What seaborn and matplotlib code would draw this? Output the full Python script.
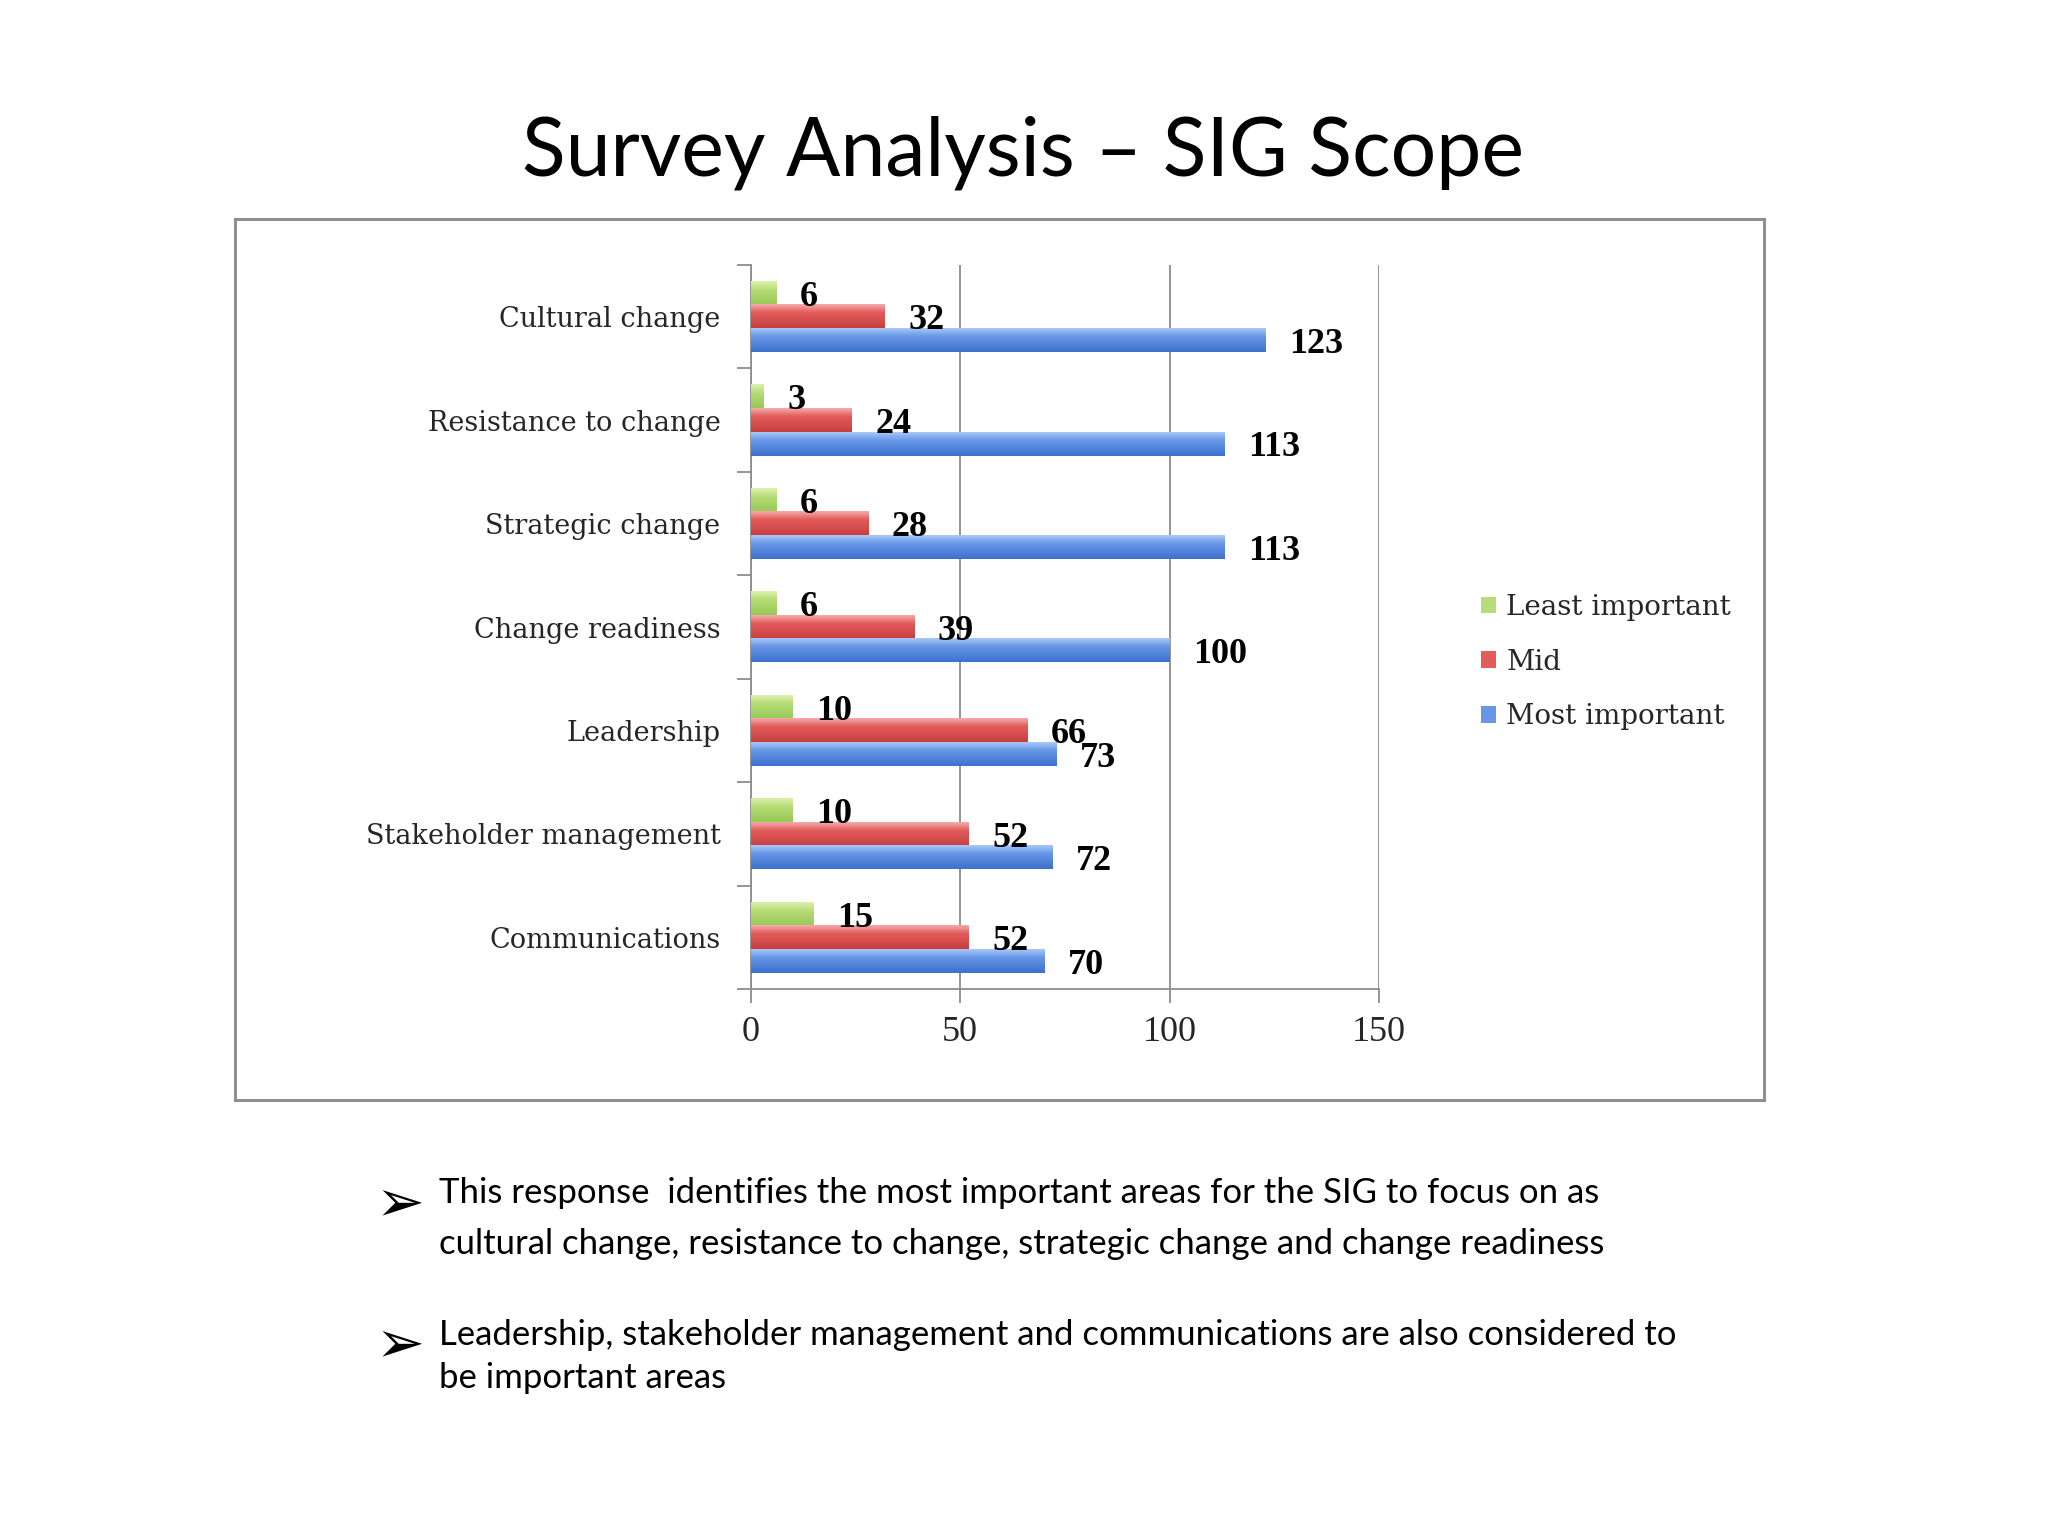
import numpy as np
import pandas as pd
import matplotlib
matplotlib.use("Agg")
import matplotlib.pyplot as plt
import seaborn as sns
from matplotlib.patches import Rectangle
from matplotlib.colors import to_rgb

# --- DATA ---
categories = ["Cultural change", "Resistance to change", "Strategic change",
              "Change readiness", "Leadership", "Stakeholder management",
              "Communications"]
least_important = [6, 3, 6, 6, 10, 10, 15]
mid = [32, 24, 28, 39, 66, 52, 52]
most_important = [123, 113, 113, 100, 73, 72, 70]
series_names = ["Least important", "Mid", "Most important"]
x_ticks = [0, 50, 100, 150]

title_text = "Survey Analysis \u2013 SIG Scope"
bullets = [
    ["This response  identifies the most important areas for the SIG to focus on as",
     "cultural change, resistance to change, strategic change and change readiness"],
    ["Leadership, stakeholder management and communications are also considered to",
     "be important areas"],
]

# --- STYLE ---
# (top, base, bottom) shades to fake the office-style gradient bars
shades = {
    "Least important": ("#dcf2ad", "#b7dc78", "#98c955"),
    "Mid": ("#f6aaaa", "#e25c5c", "#c83e3e"),
    "Most important": ("#a8c8f8", "#6797e6", "#3c70cd"),
}
grid_col = "#8c8c8c"
label_font = "DejaVu Serif"
digit_font = "Liberation Serif"
sans_font = "Lato"

df = pd.DataFrame({
    "category": categories * 3,
    "value": least_important + mid + most_important,
    "series": [s for s in series_names for _ in categories],
})

sns.set_theme(style="white")
plt.rcParams["font.family"] = ["DejaVu Sans"]

fig = plt.figure(figsize=(20.48, 15.36), dpi=100)
fig.patch.set_facecolor("white")

# outer frame around chart
fig.patches.append(Rectangle((0.1147, 0.2839), 0.7466, 0.5736, transform=fig.transFigure,
                             fill=False, edgecolor="#8f8f8f", linewidth=2.2, zorder=0))

ax = fig.add_axes([0.3667, 0.356, 0.3066, 0.4715])
ax.set_facecolor("none")

sns.barplot(data=df, y="category", x="value", hue="series", order=categories,
            hue_order=series_names, orient="h", width=0.684,
            palette=[shades[s][1] for s in series_names], saturation=1,
            edgecolor="none", linewidth=0, ax=ax, zorder=3)

# gradient overlay on each bar
for name, cont in zip(series_names, ax.containers):
    top, base, bot = [np.array(to_rgb(c)) for c in shades[name]]
    t = np.linspace(0, 1, 64)[:, None]
    grad = np.where(t < 0.35, top + (base - top) * (t / 0.35),
                    base + (bot - base) * ((t - 0.35) / 0.65))
    img = grad[:, None, :]
    for bar in cont:
        x0, y0 = bar.get_x(), bar.get_y()
        w, h = bar.get_width(), bar.get_height()
        ax.imshow(img, extent=(x0, x0 + w, y0 + h, y0), origin="upper",
                  aspect="auto", zorder=4, interpolation="bilinear")
    labels = ax.bar_label(cont, padding=17, fontsize=26, fontweight="bold",
                          fontfamily=digit_font, color="black", zorder=5)
    for lab in labels:
        lab.xyann = (17, -3)

ax.set_xlim(0, 150)
ax.set_ylim(len(categories) - 0.5, -0.5)

ax.set_xticks(x_ticks)
ax.set_xticklabels([str(v) for v in x_ticks], fontfamily=digit_font, fontsize=26)
ax.xaxis.grid(True, color=grid_col, linewidth=1.3)
ax.yaxis.grid(False)
ax.set_axisbelow(True)

ax.set_yticks(range(len(categories)))
ax.set_yticklabels(categories, fontfamily=label_font, fontsize=19.5)
ax.set_yticks(np.arange(-0.5, len(categories)), minor=True)
ax.tick_params(axis="y", which="major", length=0, pad=22)
ax.tick_params(axis="y", which="minor", length=10, width=1.3, color=grid_col, left=True)
ax.tick_params(axis="x", which="major", length=10, width=1.3, color=grid_col, bottom=True, pad=9)

ax.set_xlabel("")
ax.set_ylabel("")
for side in ["top", "right"]:
    ax.spines[side].set_visible(False)
for side in ["left", "bottom"]:
    ax.spines[side].set_color(grid_col)
    ax.spines[side].set_linewidth(1.3)

leg = ax.legend(loc="center left", bbox_to_anchor=(0.711, 0.569), bbox_transform=fig.transFigure,
                frameon=False, handlelength=0.55, handleheight=0.55, handletextpad=0.35,
                labelspacing=1.0, prop={"family": label_font, "size": 20})

# title and bullet text
fig.text(0.4995, 0.886, title_text, ha="center", va="baseline",
         fontfamily=sans_font, fontsize=58, color="black")

line_y = [[0.2168, 0.1836], [0.1243, 0.0964]]
arrow_y = [0.2045, 0.1128]
for lines, ys, ay in zip(bullets, line_y, arrow_y):
    fig.text(0.1835, ay, "\u27a2", ha="left", va="baseline",
             fontfamily="DejaVu Sans", fontsize=42, color="black")
    for txt, y in zip(lines, ys):
        fig.text(0.2143, y, txt, ha="left", va="baseline",
                 fontfamily=sans_font, fontsize=25, color="black")

fig.savefig("out.png", dpi=100, facecolor="white")
